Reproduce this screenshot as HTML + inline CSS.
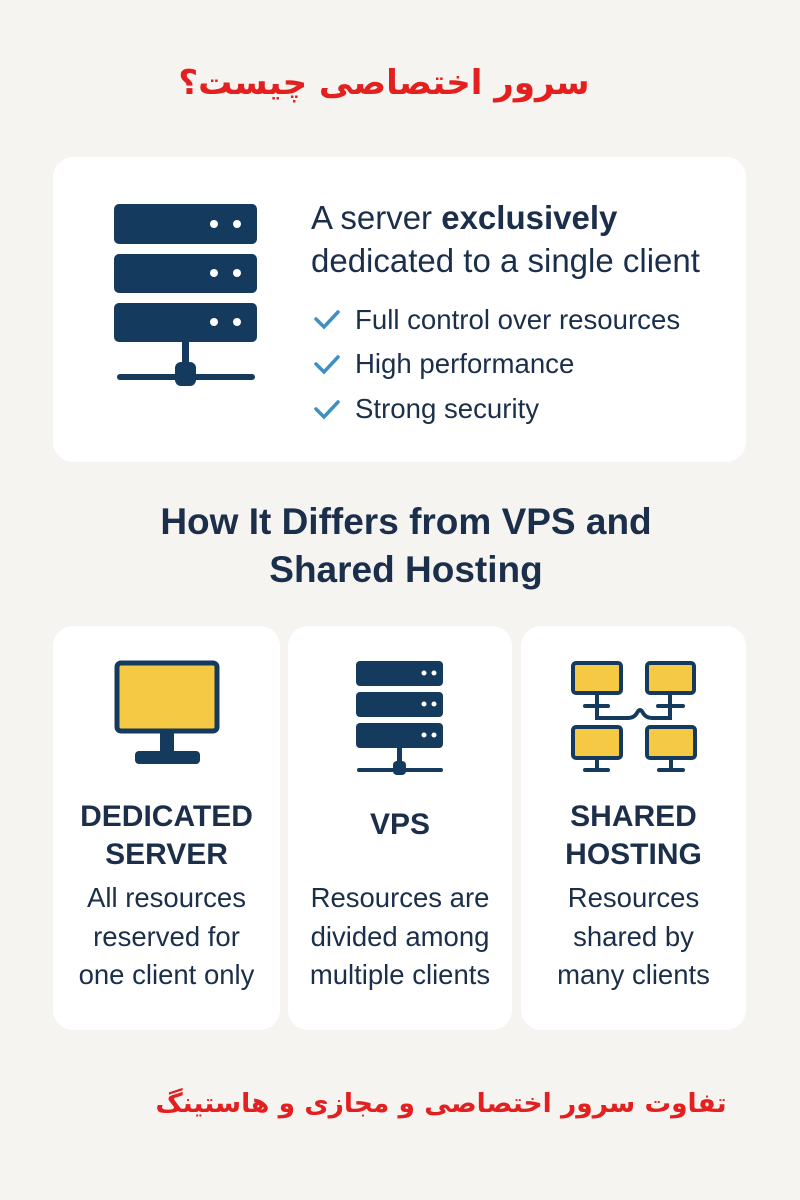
<!DOCTYPE html>
<html><head><meta charset="utf-8"><style>
body{margin:0;width:800px;height:1200px;background:#f6f4f1;position:relative;overflow:hidden;font-family:"Liberation Sans","DejaVu Sans",sans-serif;color:#1b2f4b}
.a{position:absolute;white-space:nowrap}
.card{position:absolute;background:#fff;border-radius:20px}
.fa{font-family:"DejaVu Sans",sans-serif;font-weight:bold;color:#e3201f;direction:rtl;text-align:center}
.c{text-align:center}
</style></head><body>
<div class="a fa" style="left:149px;width:470px;top:58px;font-size:34px;line-height:50px">سرور اختصاصی چیست؟</div>

<div class="card" style="left:53px;top:157px;width:693px;height:305px"></div>
<svg class="a" style="left:0;top:0" width="800" height="1200">
 <g fill="#143a5e">
  <rect x="114" y="204" width="143" height="40" rx="5"/>
  <rect x="114" y="254" width="143" height="39" rx="5"/>
  <rect x="114" y="303" width="143" height="39" rx="5"/>
  <rect x="182" y="340" width="7" height="25"/>
  <rect x="117" y="374" width="138" height="6" rx="3"/>
  <rect x="175" y="362" width="21" height="24" rx="6"/>
 </g>
 <g fill="#fff">
  <circle cx="214" cy="224" r="4"/><circle cx="237" cy="224" r="4"/>
  <circle cx="214" cy="273" r="4"/><circle cx="237" cy="273" r="4"/>
  <circle cx="214" cy="322" r="4"/><circle cx="237" cy="322" r="4"/>
 </g>
 <g stroke="#3d8fc4" stroke-width="3.5" fill="none" stroke-linecap="round">
  <path d="M316 319 L324 327 L338 312"/>
  <path d="M316 364 L324 372 L338 357"/>
  <path d="M316 409 L324 417 L338 402"/>
 </g>
</svg>
<div class="a" style="left:311px;top:199px;font-size:33px;line-height:38px">A server <b>exclusively</b></div>
<div class="a" style="left:311px;top:242px;font-size:33px;line-height:38px">dedicated to a single client</div>
<div class="a" style="left:355px;top:304px;font-size:27.6px;line-height:32px">Full control over resources</div>
<div class="a" style="left:355px;top:348px;font-size:27.6px;line-height:32px">High performance</div>
<div class="a" style="left:355px;top:393px;font-size:27.6px;line-height:32px">Strong security</div>

<div class="a c" style="left:0;width:812px;top:498px;font-size:37px;line-height:48px;font-weight:bold">How It Differs from VPS and<br>Shared Hosting</div>

<div class="card" style="left:53px;top:626px;width:227px;height:404px"></div>
<div class="card" style="left:288px;top:626px;width:224px;height:404px"></div>
<div class="card" style="left:521px;top:626px;width:225px;height:404px"></div>

<svg class="a" style="left:0;top:0" width="800" height="1200">
 <rect x="117" y="663" width="100" height="68" rx="4" fill="#f6c945" stroke="#143a5e" stroke-width="5"/>
 <rect x="160" y="731" width="14" height="22" fill="#143a5e"/>
 <rect x="135" y="751" width="65" height="13" rx="4" fill="#143a5e"/>
 <g fill="#143a5e">
  <rect x="356" y="661" width="87" height="25" rx="4"/>
  <rect x="356" y="692" width="87" height="25" rx="4"/>
  <rect x="356" y="723" width="87" height="25" rx="4"/>
  <rect x="397" y="746" width="5" height="20"/>
  <rect x="357" y="768" width="86" height="4" rx="2"/>
  <rect x="393" y="761" width="13" height="14" rx="4"/>
 </g>
 <g fill="#fff">
  <circle cx="424" cy="673" r="2.5"/><circle cx="434" cy="673" r="2.5"/>
  <circle cx="424" cy="704" r="2.5"/><circle cx="434" cy="704" r="2.5"/>
  <circle cx="424" cy="735" r="2.5"/><circle cx="434" cy="735" r="2.5"/>
 </g>
 <g stroke="#143a5e" fill="#f6c945" stroke-width="4">
  <rect x="573" y="663" width="48" height="30" rx="3"/>
  <rect x="647" y="663" width="47" height="30" rx="3"/>
  <rect x="573" y="727" width="48" height="31" rx="3"/>
  <rect x="647" y="727" width="48" height="31" rx="3"/>
 </g>
 <g stroke="#143a5e" stroke-width="4" fill="none" stroke-linecap="round">
  <path d="M597 693 V718 H628 Q634 718 637 713 Q640 707 643 713 Q646 718 652 718 H670 V693"/>
  <path d="M585 706 H608 M658 706 H683"/>
  <path d="M597 758 V770 M585 770 H608 M671 758 V770 M659 770 H683"/>
 </g>
</svg>

<div class="a c" style="left:53px;width:227px;top:798px;font-size:30px;line-height:38px;font-weight:bold">DEDICATED<br>SERVER</div>
<div class="a c" style="left:288px;width:224px;top:806px;font-size:30px;line-height:38px;font-weight:bold">VPS</div>
<div class="a c" style="left:521px;width:225px;top:798px;font-size:30px;line-height:38px;font-weight:bold">SHARED<br>HOSTING</div>

<div class="a c" style="left:53px;width:227px;top:879px;font-size:27.5px;line-height:38.5px">All resources<br>reserved for<br>one client only</div>
<div class="a c" style="left:288px;width:224px;top:879px;font-size:27.5px;line-height:38.5px">Resources are<br>divided among<br>multiple clients</div>
<div class="a c" style="left:521px;width:225px;top:879px;font-size:27.5px;line-height:38.5px">Resources<br>shared by<br>many clients</div>

<div class="a fa" style="left:141px;width:600px;top:1084px;font-size:26.5px;line-height:40px">تفاوت سرور اختصاصی و مجازی و هاستینگ</div>
</body></html>
